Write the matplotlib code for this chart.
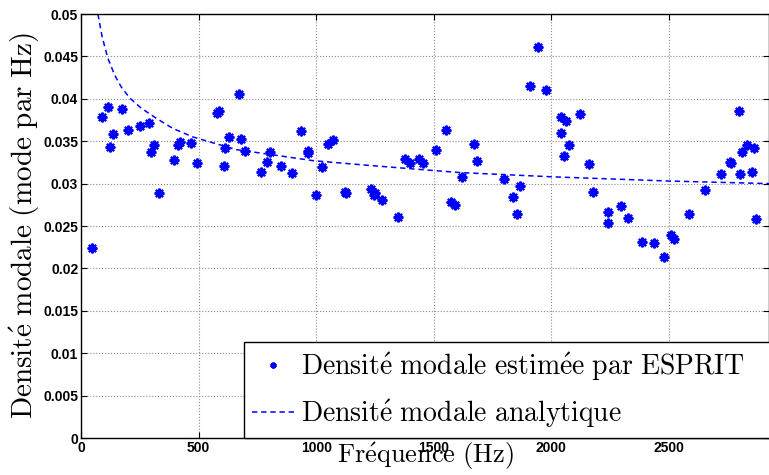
import matplotlib
matplotlib.use("Agg")
import matplotlib.pyplot as plt
import numpy as np

# estimated modal density (ESPRIT)
freq_esprit = [45, 90, 113, 124, 137, 174, 200, 251, 290, 298, 310, 330, 394,
               414, 420, 467, 492, 580, 586, 610, 614, 628, 671, 682, 697, 765,
               789, 803, 851, 898, 934, 965, 967, 999, 1026, 1050, 1070, 1121,
               1128, 1235, 1245, 1249, 1279, 1347, 1378, 1400, 1435, 1452, 1509,
               1552, 1574, 1588, 1620, 1669, 1684, 1799, 1837, 1853, 1867, 1910,
               1945, 1978, 2039, 2042, 2055, 2063, 2076, 2121, 2159, 2175, 2240,
               2240, 2297, 2327, 2384, 2435, 2478, 2510, 2522, 2583, 2654, 2722,
               2759, 2762, 2797, 2801, 2811, 2833, 2851, 2862, 2870]
dens_esprit = [0.0224, 0.0378, 0.0390, 0.0343, 0.0358, 0.0388, 0.0363, 0.0368,
               0.0372, 0.0337, 0.0346, 0.0289, 0.0328, 0.0346, 0.0349, 0.0348,
               0.0324, 0.0383, 0.0386, 0.0321, 0.0342, 0.0355, 0.0406, 0.0353,
               0.0339, 0.0314, 0.0326, 0.0337, 0.0321, 0.0313, 0.0362, 0.0338,
               0.0336, 0.0287, 0.0320, 0.0347, 0.0351, 0.0290, 0.0289, 0.0294,
               0.0287, 0.0289, 0.0281, 0.0261, 0.0329, 0.0324, 0.0329, 0.0324,
               0.0340, 0.0363, 0.0278, 0.0275, 0.0308, 0.0347, 0.0327, 0.0305,
               0.0284, 0.0264, 0.0297, 0.0415, 0.0461, 0.0410, 0.0379, 0.0360,
               0.0333, 0.0374, 0.0345, 0.0382, 0.0323, 0.0290, 0.0266, 0.0254,
               0.0274, 0.0260, 0.0231, 0.0230, 0.0214, 0.0239, 0.0235, 0.0264,
               0.0292, 0.0311, 0.0325, 0.0324, 0.0386, 0.0311, 0.0337, 0.0346,
               0.0314, 0.0342, 0.0258]

# analytic modal density curve
freq_ana = [72, 90, 114, 143, 171, 207, 256, 320, 391, 476, 562, 661, 789,
            988, 1201, 1471, 1613, 2003, 2502, 2925]
dens_ana = [0.0500, 0.0473, 0.0448, 0.0428, 0.0414, 0.0401, 0.0389, 0.0377,
            0.0365, 0.0355, 0.0348, 0.0340, 0.0335, 0.0327, 0.0322, 0.0316,
            0.0313, 0.0308, 0.0303, 0.0300]

xticks = [0, 500, 1000, 1500, 2000, 2500]
yticks = [0, 0.005, 0.01, 0.015, 0.02, 0.025, 0.03, 0.035, 0.04, 0.045, 0.05]
ytick_labels = ['0', '0.005', '0.01', '0.015', '0.02', '0.025', '0.03',
                '0.035', '0.04', '0.045', '0.05']

plt.rcParams['mathtext.fontset'] = 'cm'

fig = plt.figure(figsize=(7.69, 4.75), dpi=100)
ax = fig.add_axes([81 / 769, 37 / 475, 688 / 769, 424 / 475])

ax.plot(freq_esprit, dens_esprit, linestyle='none', marker=(8, 2, 0),
        markersize=7, markeredgewidth=1.6, color='#0000ff',
        label=r'$\mathrm{Densit\acute{e}\ modale\ estim\acute{e}e\ par\ ESPRIT}$')
ax.plot(freq_ana, dens_ana, linestyle=(0, (3.5, 2.5)), linewidth=1.1,
        color='#0000ff', label=r'$\mathrm{Densit\acute{e}\ modale\ analytique}$')

ax.set_xlim(0, 2925)
ax.set_ylim(0, 0.05)
ax.set_xticks(xticks)
ax.set_xticklabels([str(t) for t in xticks])
ax.set_yticks(yticks)
ax.set_yticklabels(ytick_labels)
for lab in ax.get_xticklabels() + ax.get_yticklabels():
    lab.set_fontfamily('Liberation Sans')
    lab.set_fontweight('bold')
    lab.set_fontsize(10)
ax.tick_params(direction='in', top=True, right=True, length=4, width=0.8, pad=2)
ax.grid(True, linestyle=':', color='0.55', linewidth=0.8)
for s in ax.spines.values():
    s.set_linewidth(1.0)

ax.set_xlabel(r'$\mathrm{Fr\acute{e}quence\ (Hz)}$', fontsize=19)
ax.set_ylabel(r'$\mathrm{Densit\acute{e}\ modale\ (mode\ par\ Hz)}$', fontsize=21)
ax.xaxis.set_label_coords(0.5, -0.006)
ax.yaxis.set_label_coords(-0.057, 0.5)

leg = ax.legend(loc='lower left', bbox_to_anchor=(0.237, 0, 0.9, 0.232),
                mode='expand', borderaxespad=0, fontsize=20, markerscale=0.6,
                handlelength=1.5, handletextpad=0.25, labelspacing=0.5,
                borderpad=0.3, fancybox=False, framealpha=1)
leg.get_frame().set_edgecolor('black')
leg.get_frame().set_linewidth(1.0)

fig.savefig('out.png', dpi=100)
